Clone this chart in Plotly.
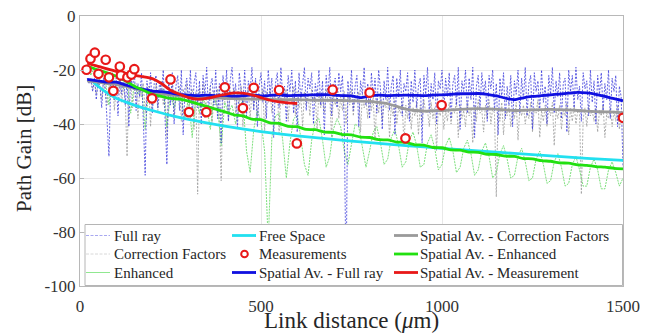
import plotly.graph_objects as go

# ---------------- data ----------------
x_dense = list(range(20, 1501, 5))
x_thin = list(range(20, 1501, 10))

full_ray = [
    -23, -25, -24, -28, -23, -31, -24, -26, -34, -23, -27, -38, -52, -24, -22, -31, -23, -37, -22, -29,
    -21, -33, -24, -41, -22, -27, -20, -35, -25, -30, -21, -39, -59, -24, -31, -21, -36, -25, -22, -34,
    -24, -29, -20, -38, -55, -23, -33, -21, -40, -26, -22, -35, -20, -44, -27, -23, -32, -20, -37, -25,
    -21, -34, -24, -40, -22, -29, -19, -36, -26, -23, -33, -20, -38, -25, -47, -22, -31, -20, -39, -24,
    -19, -30, -25, -42, -21, -27, -33, -20, -37, -24, -28, -19, -35, -23, -41, -26, -21, -32, -24, -38,
    -20, -29, -23, -45, -25, -21, -34, -19, -30, -26, -39, -22, -28, -20, -36, -24, -43, -21, -31, -25,
    -19, -35, -23, -27, -21, -40, -25, -30, -20, -33, -24, -44, -22, -29, -19, -37, -26, -23, -34, -21,
    -28, -22, -39, -100, -24, -31, -20, -35, -26, -22, -41, -24, -29, -19, -33, -25, -38, -21, -30, -23,
    -36, -20, -27, -42, -24, -31, -19, -35, -26, -22, -44, -23, -30, -20, -37, -25, -28, -21, -39, -24,
    -32, -20, -34, -26, -23, -47, -22, -29, -19, -36, -25, -31, -21, -40, -24, -27, -20, -35, -23, -30,
    -21, -38, -25, -22, -33, -19, -42, -24, -28, -20, -36, -23, -31, -19, -45, -26, -22, -34, -21, -29,
    -24, -39, -22, -27, -20, -35, -25, -44, -23, -30, -21, -38, -26, -33, -22, -41, -24, -29, -20, -36,
    -23, -31, -19, -37, -25, -22, -42, -21, -28, -24, -35, -20, -32, -26, -40, -22, -29, -19, -36, -24,
    -30, -21, -38, -25, -23, -43, -20, -28, -22, -34, -19, -31, -26, -39, -21, -27, -24, -37, -20, -32,
    -24, -40, -22, -29, -21, -35, -25, -31, -20, -38, -23, -28, -22, -41, -26, -30, -56,
]

corr_factors = [
    -24, -25, -23, -27, -24, -29, -25, -26, -31, -24, -28, -33, -25, -30, -24, -35, -26, -29, -24, -32,
    -26, -31, -52, -27, -24, -34, -28, -25, -38, -27, -30, -25, -36, -28, -26, -41, -27, -31, -25, -35,
    -28, -24, -33, -29, -45, -26, -31, -25, -37, -28, -30, -26, -39, -27, -32, -25, -36, -29, -27, -42,
    -28, -66, -27, -34, -25, -38, -29, -31, -26, -40, -28, -33, -27, -37, -61, -29, -32, -26, -39, -28,
    -31, -27, -36, -28, -33, -26, -41, -29, -30, -27, -38, -28, -34, -26, -37, -29, -31, -27, -43, -28,
    -32, -27, -36, -29, -31, -26, -44, -28, -33, -30, -27, -39, -29, -32, -26, -37, -28, -34, -30, -41,
    -28, -33, -29, -37, -27, -31, -30, -42, -28, -34, -29, -36, -27, -32, -30, -45, -28, -33, -29, -38,
    -30, -35, -28, -40, -29, -33, -27, -37, -30, -32, -28, -43, -29, -34, -31, -38, -28, -35, -30, -46,
    -31, -36, -29, -39, -32, -34, -30, -45, -33, -37, -31, -40, -34, -36, -32, -48, -33, -38, -31, -42,
    -34, -37, -32, -44, -33, -39, -31, -36, -35, -41, -32, -38, -34, -50, -33, -37, -31, -42, -35, -39,
    -32, -40, -34, -36, -31, -45, -33, -38, -35, -41, -32, -37, -34, -47, -33, -39, -31, -36, -35, -43,
    -33, -38, -31, -40, -34, -36, -67, -35, -39, -32, -44, -34, -37, -33, -41, -35, -38, -32, -46, -34,
    -37, -33, -40, -35, -38, -32, -43, -34, -36, -31, -45, -35, -39, -33, -41, -34, -37, -32, -48, -35,
    -38, -33, -42, -35, -37, -32, -44, -34, -39, -33, -40, -35, -36, -66, -38, -34, -41, -33, -37, -35,
    -39, -34, -43, -35, -37, -33, -45, -36, -38, -34, -41, -35, -39, -33, -42, -36, -38,
]

enhanced = [
    -18, -22, -19, -26, -20, -24, -33, -21, -28, -23,
    -27, -24, -36, -25, -29, -26, -42, -27, -33, -28,
    -30, -27, -41, -29, -34, -28, -31, -38, -30, -45,
    -29, -36, -31, -33, -42, -30, -34, -48, -32, -36,
    -33, -40, -34, -31, -50, -58, -42, -35, -39, -50,
    -84, -45, -37, -36, -46, -60, -47, -38, -37, -45,
    -55, -59, -46, -39, -38, -46, -56, -52, -42, -38,
    -41, -50, -55, -47, -40, -41, -49, -56, -50, -43,
    -41, -47, -55, -53, -45, -42, -48, -56, -54, -46,
    -43, -48, -56, -55, -47, -44, -49, -57, -55, -48,
    -45, -50, -58, -56, -49, -46, -51, -59, -57, -50,
    -47, -52, -60, -58, -51, -48, -53, -60, -59, -52,
    -49, -54, -61, -60, -53, -50, -55, -62, -61, -54,
    -51, -56, -63, -62, -55, -52, -57, -63, -63, -56,
    -53, -57, -64, -64, -57, -54, -58, -63, -60,
]

fs_x = [30, 50, 75, 100, 150, 200, 250, 300, 400, 500, 600, 700, 800, 900,
        1000, 1100, 1200, 1300, 1400, 1500]
free_space = [-23.5, -26, -28.5, -30.5, -33, -35, -36.8, -38.3, -40.8, -42.8,
              -44.4, -45.7, -46.9, -48, -49, -50, -50.9, -51.8, -52.7, -53.5]

sa_x = [20, 50, 75, 100, 125, 150, 175, 200, 225, 250, 275, 300, 325, 350, 375,
        400, 425, 450, 475, 500, 525, 550, 575, 600, 625, 650, 675, 700, 725,
        750, 775, 800, 825, 850, 875, 900, 925, 950, 975, 1000, 1025, 1050,
        1075, 1100, 1125, 1150, 1175, 1200, 1225, 1250, 1275, 1300, 1325, 1350,
        1375, 1400, 1425, 1450, 1475, 1500]
sa_full_ray = [-23.5, -24, -24.5, -24.5, -25.5, -26.5, -27.2, -27.8, -28, -28.5,
               -29, -29.3, -29.5, -29.3, -29.6, -29.4, -29.7, -29.5, -29.3, -29.6,
               -29.4, -29.2, -29.5, -29.4, -29.3, -29.2, -29.1, -29.3, -29.5, -29.6,
               -30.2, -29.6, -29.3, -29.5, -29.4, -29.3, -29.4, -29.5, -29.3, -29.2,
               -29.0, -28.8, -28.8, -28.7, -29.0, -29.6, -30.4, -31.0, -30.3, -29.8,
               -29.5, -29.2, -28.9, -28.6, -28.3, -28.5, -29.0, -29.8, -30.6, -31.4]
sa_corr = [-24, -24.5, -25, -25.2, -26, -26.8, -27.5, -28.3, -28.8, -29.2,
           -29.6, -30, -30.2, -30.3, -30.4, -30.5, -30.6, -30.7, -30.8, -30.8,
           -30.9, -31, -31, -31, -31.1, -31.2, -31.2, -31.2, -31.3, -31.4,
           -31.5, -31.6, -32, -32.5, -33.5, -34.5, -35, -35.2, -35.1, -35,
           -34.8, -34.6, -34.4, -34.3, -34.4, -34.5, -34.8, -35, -34.9, -34.8,
           -34.7, -34.6, -34.7, -34.8, -35, -35.2, -35.4, -35.5, -35.6, -35.8]
sa_enh = [-18.5, -20, -21, -22.3, -24, -26, -27.5, -29, -29.8, -30.5,
          -30.8, -31.5, -32.5, -33.5, -34.5, -35.5, -36.6, -37, -38.2, -38.4,
          -39.6, -39.8, -40.9, -41, -42, -42.1, -43, -43.1, -43.9, -44,
          -44.9, -45, -45.8, -45.9, -46.7, -46.8, -47.7, -47.8, -48.7, -48.8,
          -49.6, -49.7, -50.4, -50.5, -51.2, -51.3, -51.9, -52, -52.8, -52.9,
          -53.6, -53.8, -54.4, -54.5, -55.1, -55.3, -55.8, -56, -56.4, -56.6]
sam_x = [20, 40, 60, 80, 100, 125, 150, 175, 200, 225, 250, 275, 300, 325, 350,
         375, 400, 425, 450, 475, 500, 525, 550, 575, 600]
sa_meas = [-17.5, -18.3, -19, -19.8, -20.5, -21.2, -22, -22.5, -23.2, -25,
           -27.5, -29, -30.2, -30.8, -30.5, -29.8, -29, -28.5, -28.6, -29.2,
           -30.2, -31.2, -31.8, -32.2, -32.4]

meas_x = [18, 29, 41, 51, 71, 80, 92, 110, 113, 131, 142, 150, 199, 250, 301,
          349, 400, 450, 480, 550, 599, 698, 800, 899, 999, 1500]
meas_y = [-19.9, -15.8, -13.6, -21.4, -16.2, -22.7, -27.7, -18.7, -22, -22.7,
          -21.7, -19.7, -30.5, -23.5, -35.6, -35.6, -26.4, -34.1, -26.6, -27.4,
          -47.2, -27.3, -28.4, -45.3, -33, -37.7]

x_tickvals = [0, 500, 1000, 1500]
x_ticktext = ["0", "500", "1000", "1500"]
y_tickvals = [0, -20, -40, -60, -80, -100]
y_ticktext = ["0", "-20", "-40", "-60", "-80", "-100"]

# legend entries in column order
legend_cols = [
    ["Full ray", "Correction Factors", "Enhanced"],
    ["Free Space", "Measurements", "Spatial Av. - Full ray"],
    ["Spatial Av. - Correction Factors", "Spatial Av. - Enhanced", "Spatial Av. - Measurement"],
]

# ---------------- styles ----------------
SERIF = "Liberation Serif, Times New Roman, serif"
RED = "#e81818"
styles = {
    "Full ray": dict(color="rgba(60,60,220,0.8)", width=1, dash="2px,1.5px"),
    "Correction Factors": dict(color="rgba(160,160,160,0.85)", width=1, dash="2px,1.5px"),
    "Enhanced": dict(color="rgba(110,220,110,0.9)", width=1, dash="2px,1px"),
    "Free Space": dict(color="#22e0f0", width=2.8),
    "Spatial Av. - Correction Factors": dict(color="#9a9a9a", width=2.8),
    "Spatial Av. - Full ray": dict(color="#1010e0", width=2.8),
    "Spatial Av. - Enhanced": dict(color="#22e010", width=2.8),
    "Spatial Av. - Measurement": dict(color=RED, width=2.8),
}
legend_sample_styles = {
    "Full ray": dict(color="#a8a8f0", width=1, dash="3px,1.5px"),
    "Correction Factors": dict(color="#d8d8d8", width=1, dash="3px,1.5px"),
    "Enhanced": dict(color="#90e890", width=1),
}

fig = go.Figure()

def add_line(x, y, name, smooth=False):
    line = dict(styles[name])
    if smooth:
        line.update(shape="spline", smoothing=0.6)
    fig.add_trace(go.Scatter(x=x, y=y, mode="lines", name=name, showlegend=False,
                             line=line))

add_line(x_dense, corr_factors, "Correction Factors")
add_line(x_thin, enhanced, "Enhanced")
add_line(x_dense, full_ray, "Full ray")
add_line(fs_x, free_space, "Free Space", True)
add_line(sa_x, sa_corr, "Spatial Av. - Correction Factors", True)
add_line(sa_x, sa_full_ray, "Spatial Av. - Full ray", True)
add_line(sa_x, sa_enh, "Spatial Av. - Enhanced", True)
add_line(sam_x, sa_meas, "Spatial Av. - Measurement", True)
fig.add_trace(go.Scatter(x=meas_x, y=meas_y, mode="markers", name="Measurements",
                         showlegend=False,
                         marker=dict(symbol="circle", size=8.5, color="white",
                                     line=dict(color=RED, width=2.2))))

# ---------------- manual legend (pixel layout -> paper coords) ----------------
PL, PR, PT, PB = 80, 623, 16, 286
def px2x(px):
    return (px - PL) / (PR - PL)
def px2y(py):
    return (PB - py) / (PB - PT)

shapes = [dict(type="rect", xref="paper", yref="paper",
               x0=px2x(85), x1=px2x(622.5), y0=px2y(285.5), y1=px2y(224.5),
               fillcolor="white", line=dict(color="#b5b5b5", width=1), layer="above")]
annotations = []
col_line_x = [(86, 110), (232, 256), (394, 418)]
col_text_x = [112, 257, 418]
row_y = [235.5, 254, 272.5]
for ci, col in enumerate(legend_cols):
    for ri, label in enumerate(col):
        y = row_y[ri]
        x0, x1 = col_line_x[ci]
        if label == "Measurements":
            cx = (x0 + x1) / 2 + 0.5
            r = 3.3
            shapes.append(dict(type="circle", xref="paper", yref="paper",
                               x0=px2x(cx - r), x1=px2x(cx + r),
                               y0=px2y(y + r), y1=px2y(y - r),
                               fillcolor="white", line=dict(color=RED, width=2),
                               layer="above"))
        else:
            st = legend_sample_styles.get(label, styles[label])
            shapes.append(dict(type="line", xref="paper", yref="paper",
                               x0=px2x(x0), x1=px2x(x1), y0=px2y(y), y1=px2y(y),
                               line=st, layer="above"))
        annotations.append(dict(text=label, xref="paper", yref="paper",
                                x=px2x(col_text_x[ci]), y=px2y(y), xanchor="left",
                                yanchor="middle", showarrow=False,
                                font=dict(family=SERIF, size=15, color="#262626")))

annotations += [
    dict(text="Link distance (<i>μ</i>m)", xref="paper", yref="paper",
         x=0.5, y=px2y(320), xanchor="center", yanchor="middle", showarrow=False,
         font=dict(family=SERIF, size=23, color="#262626")),
    dict(text="Path Gain [dB]", xref="paper", yref="paper", textangle=-90,
         x=px2x(24), y=px2y(149), xanchor="center", yanchor="middle", showarrow=False,
         font=dict(family=SERIF, size=21, color="#262626")),
]

axis_common = dict(showline=True, mirror=True, linecolor="#b8b8b8", linewidth=1,
                   showgrid=True, gridcolor="#e8e8e8", gridwidth=1, zeroline=False,
                   ticks="inside", ticklen=4, tickcolor="#b8b8b8",
                   tickfont=dict(family=SERIF, size=17, color="#333333"))

fig.update_layout(
    width=660, height=334,
    margin=dict(l=PL, r=660 - PR, t=PT, b=334 - PB, autoexpand=False),
    plot_bgcolor="white", paper_bgcolor="white",
    showlegend=False,
    xaxis=dict(range=[0, 1500], tickvals=x_tickvals, ticktext=x_ticktext,
               ticklabelstandoff=5, **axis_common),
    yaxis=dict(range=[-100, 0], tickvals=y_tickvals, ticktext=y_ticktext,
               **axis_common),
    shapes=shapes,
    annotations=annotations,
)

fig.write_html("out.html")
